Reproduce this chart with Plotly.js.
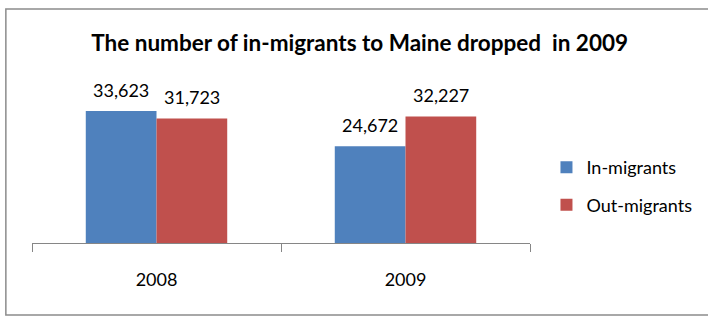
<!DOCTYPE html>
<html>
<head>
<meta charset="utf-8">
<script src="https://cdn.plot.ly/plotly-3.0.1.min.js"></script>
<style>
  html, body { margin: 0; padding: 0; background: #fff; }
  #chart { width: 708px; height: 316px; }
</style>
</head>
<body>
<div id="chart"></div>
<script>
const years = ['2008', '2009'];
const inMigrants = [33623, 24672];
const outMigrants = [31723, 32227];
const seriesNames = ['In-migrants', 'Out-migrants'];
const titleText = 'The number of in-migrants to Maine dropped  in 2009';

const FONT = 'Lato, "Open Sans", "DejaVu Sans", sans-serif';
const fmt = v => v.toLocaleString('en-US');

const traces = [
  { type: 'bar', name: seriesNames[0], x: years, y: inMigrants,
    marker: { color: '#4F81BD' }, legendgroup: 'a', hoverinfo: 'none' },
  { type: 'bar', name: seriesNames[1], x: years, y: outMigrants,
    marker: { color: '#C0504D' }, legendgroup: 'b', hoverinfo: 'none' }
];

const annotations = [];
const series = [inMigrants, outMigrants];
const shifts = [-35.5, 35.5];
series.forEach((vals, s) => {
  vals.forEach((v, i) => {
    annotations.push({
      x: i, y: v, xref: 'x', yref: 'y',
      xshift: shifts[s], yshift: 21.5,
      text: fmt(v), showarrow: false,
      xanchor: 'center', yanchor: 'middle',
      font: { family: FONT, size: 18, color: '#000' }
    });
  });
});

const layout = {
  width: 708, height: 316,
  margin: { l: 31.7, r: 177.3, t: 85.8, b: 73.3, pad: 0 },
  paper_bgcolor: '#fff', plot_bgcolor: '#fff',
  font: { family: FONT, size: 18, color: '#000' },
  title: {
    text: '<b>' + titleText + '</b>',
    font: { family: FONT, size: 22.5, color: '#000' },
    xref: 'container', yref: 'container',
    x: 0.508, y: 0.864, xanchor: 'center', yanchor: 'middle'
  },
  barmode: 'group', bargap: 0.432, bargroupgap: 0,
  xaxis: {
    type: 'category', range: [-0.5, 1.5], fixedrange: true,
    showline: true, linecolor: '#868686', linewidth: 1,
    ticks: 'outside', tickson: 'boundaries', ticklen: 8,
    tickcolor: '#868686', tickwidth: 1,
    ticklabelstandoff: 20,
    showgrid: false, zeroline: false,
    tickfont: { family: FONT, size: 18, color: '#000' }
  },
  yaxis: { range: [0, 40000], visible: false, fixedrange: true },
  showlegend: true,
  legend: {
    x: 1.031, y: 0.362, xanchor: 'left', yanchor: 'middle',
    traceorder: 'grouped', tracegroupgap: 11,
    font: { family: FONT, size: 18, color: '#000' },
    bgcolor: 'rgba(0,0,0,0)', borderwidth: 0
  },
  annotations: annotations,
  shapes: [{
    type: 'rect', xref: 'paper', yref: 'paper',
    x0: -0.0525, x1: 1.36, y0: -0.458, y1: 1.491,
    line: { color: '#8c8c8c', width: 1.5 }, fillcolor: 'rgba(0,0,0,0)',
    layer: 'below'
  }]
};

Plotly.newPlot('chart', traces, layout, { staticPlot: true, displayModeBar: false });
</script>
</body>
</html>
